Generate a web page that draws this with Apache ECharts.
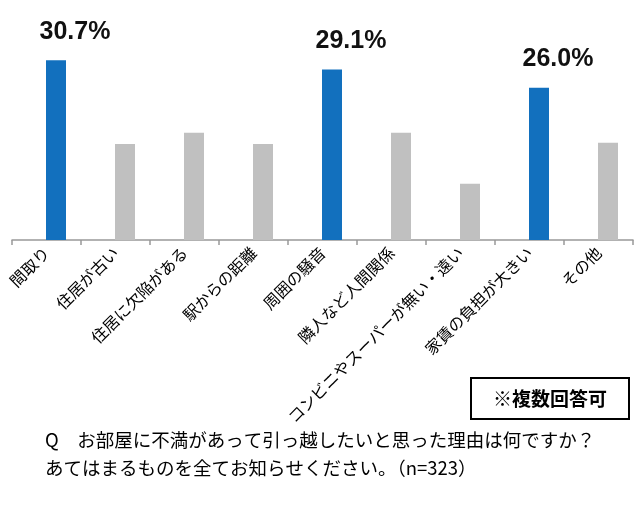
<!DOCTYPE html>
<html>
<head>
<meta charset="utf-8">
<script src="https://cdn.jsdelivr.net/npm/echarts@6/dist/echarts.min.js"></script>
<style>
    html, body {margin: 0; padding: 0; background: #fff;}
    #chart {width: 640px; height: 508px;}
</style>
</head>
<body>
<div id="chart"></div>
<script>
/*data*/
var categories = ['間取り', '住居が古い', '住居に欠陥がある', '駅からの距離', '周囲の騒音',
    '隣人など人間関係', 'コンビニやスーパーが無い・遠い', '家賃の負担が大きい', 'その他'];
var percents = [30.7, 16.4, 18.3, 16.4, 29.1, 18.3, 9.6, 26.0, 16.6];
var topItems = ['間取り', '周囲の騒音', '家賃の負担が大きい'];
var noteText = '※複数回答可';
var questionLines = [
    'Q　お部屋に不満があって引っ越したいと思った理由は何ですか？',
    'あてはまるものを全てお知らせください。（n=323）'
];

var jpFont = '"Noto Sans CJK JP", sans-serif';

function isTop(name) {
    return topItems.indexOf(name) !== -1;
}

var barData = [];
for (var i = 0; i < categories.length; i++) {
    var isTopItem = isTop(categories[i]);
    barData.push({
        value: percents[i],
        itemStyle: {color: isTopItem ? '#1270BE' : '#C0C0C0'},
        label: {show: isTopItem}
    });
}

var myChart = echarts.init(document.getElementById('chart'));
var option = {
    animation: false,
    grid: {left: 12, right: 7, top: 35, bottom: 268},
    xAxis: {
        type: 'category',
        data: categories,
        axisLine: {lineStyle: {color: '#999', width: 1.5}},
        axisTick: {show: true, length: 5, lineStyle: {color: '#999', width: 1.5}},
        axisLabel: {
            rotate: 45,
            interval: 0,
            margin: 10,
            fontSize: 16,
            color: '#000',
            fontFamily: jpFont
        }
    },
    yAxis: {
        type: 'value',
        min: 0,
        max: 35,
        show: false
    },
    series: [
        {
            /*empty series so the bars sit right of centre, like the original*/
            type: 'bar',
            barWidth: 20,
            barGap: '-5%',
            data: []
        },
        {
            type: 'bar',
            barWidth: 20,
            barGap: '-5%',
            data: barData,
            label: {
                position: 'top',
                offset: [19, -11],
                formatter: function (p) { return p.value.toFixed(1) + '%'; },
                fontFamily: '"Liberation Sans", Arial, sans-serif',
                fontWeight: 'bold',
                fontSize: 25,
                color: '#111'
            }
        }
    ],
    graphic: [
        {
            type: 'rect',
            shape: {x: 471, y: 378, width: 158, height: 41},
            style: {fill: '#fff', stroke: '#000', lineWidth: 2}
        },
        {
            type: 'text',
            x: 550, y: 399,
            style: {
                text: noteText,
                fontFamily: jpFont,
                fontWeight: 'bold',
                fontSize: 19,
                fill: '#000',
                align: 'center',
                verticalAlign: 'middle'
            }
        },
        {
            type: 'text',
            x: 45, y: 440,
            style: {
                text: questionLines[0],
                fontFamily: jpFont,
                fontSize: 18.5,
                fill: '#000',
                verticalAlign: 'middle'
            }
        },
        {
            type: 'text',
            x: 45, y: 468,
            style: {
                text: questionLines[1],
                fontFamily: jpFont,
                fontSize: 18.5,
                fill: '#000',
                verticalAlign: 'middle'
            }
        }
    ]
};
myChart.setOption(option);
</script>
</body>
</html>
